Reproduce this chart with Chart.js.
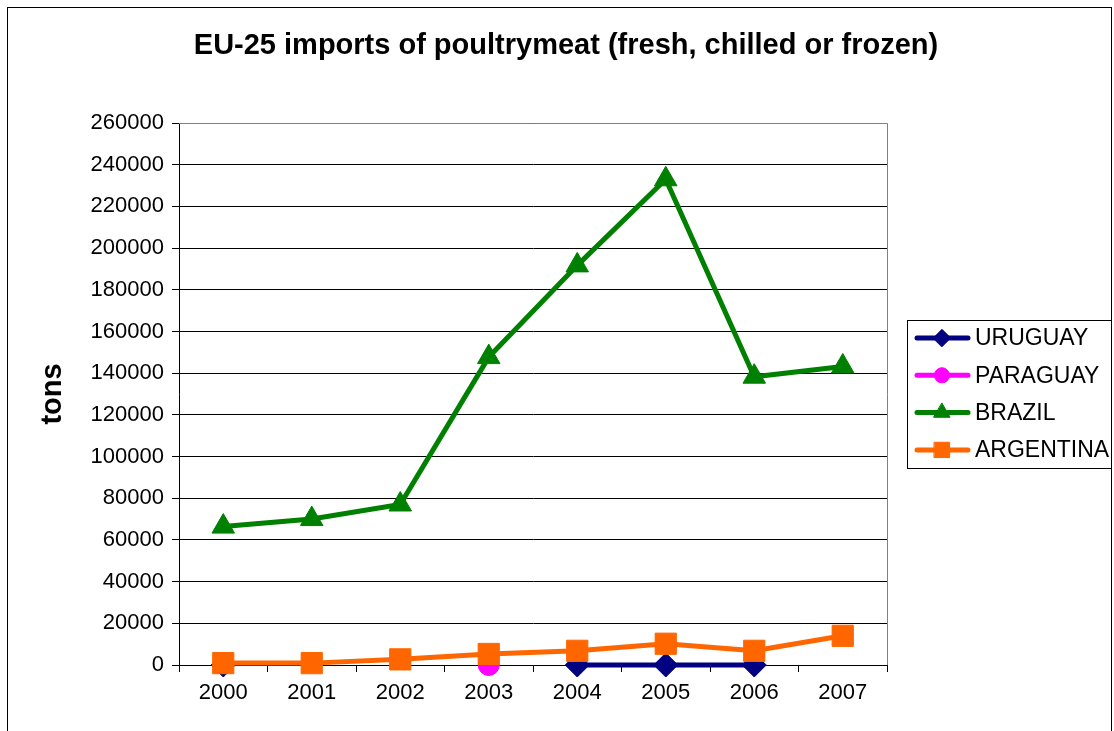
<!DOCTYPE html>
<html>
<head>
<meta charset="utf-8">
<script src="https://cdn.jsdelivr.net/npm/chart.js@4/dist/chart.umd.min.js"></script>
<style>
  html, body { margin: 0; padding: 0; background: #fff; }
  #wrap { position: relative; width: 1114px; height: 731px; }
</style>
</head>
<body>
<div id="wrap"><canvas id="chart" width="1114" height="731"></canvas></div>
<script>
// Data
const years = ['2000', '2001', '2002', '2003', '2004', '2005', '2006', '2007'];
const uruguay = [0, null, null, null, 0, 0, 0, null];
const paraguay = [null, null, null, 0, null, null, null, null];
const brazil = [66400, 70000, 77000, 147700, 191700, 233000, 138300, 143200];
const argentina = [900, 900, 2700, 5300, 6800, 10200, 6800, 14000];
const yTicks = [0, 20000, 40000, 60000, 80000, 100000, 120000, 140000, 160000, 180000, 200000, 220000, 240000, 260000];
const titleText = 'EU-25 imports of poultrymeat (fresh, chilled or frozen)';

const FONT = 'Arial, "Liberation Sans", sans-serif';

function series(label, data, color, pointStyle, radius, order) {
  return {
    label, data, order,
    borderColor: color,
    backgroundColor: color,
    pointBackgroundColor: color,
    pointBorderColor: color,
    borderWidth: 5,
    pointStyle,
    pointRadius: radius,
    pointBorderWidth: 1,
    spanGaps: false,
    clip: false,
    tension: 0,
  };
}

// frame around the whole chart, title, plot area border
const framePlugin = {
  id: 'frame',
  beforeDraw(chart) {
    const ctx = chart.ctx;
    ctx.save();
    ctx.fillStyle = '#fff';
    ctx.fillRect(0, 0, chart.width, chart.height);
    ctx.strokeStyle = '#000';
    ctx.lineWidth = 1;
    ctx.strokeRect(7.5, 7.5, 1104, 760);
    // title is centred on the whole frame, not the plot
    ctx.fillStyle = '#000';
    ctx.font = 'bold 29px ' + FONT;
    ctx.textAlign = 'center';
    ctx.textBaseline = 'middle';
    ctx.fillText(titleText, 566, 46);
    ctx.restore();
  },
  beforeDatasetsDraw(chart) {
    const { ctx, chartArea: a } = chart;
    ctx.save();
    ctx.strokeStyle = '#808080';
    ctx.lineWidth = 1;
    ctx.beginPath();
    ctx.moveTo(a.left, Math.round(a.top) + 0.5);
    ctx.lineTo(Math.round(a.right) + 0.5, Math.round(a.top) + 0.5);
    ctx.lineTo(Math.round(a.right) + 0.5, a.bottom);
    ctx.stroke();
    ctx.restore();
  }
};

// Excel-like legend box: line sample with marker, then label
const legendPlugin = {
  id: 'boxLegend',
  afterDraw(chart) {
    const ctx = chart.ctx;
    const box = { x: 907.5, y: 320.5, w: 204, h: 148 };
    ctx.save();
    ctx.strokeStyle = '#000';
    ctx.lineWidth = 1;
    ctx.strokeRect(box.x, box.y, box.w, box.h);
    ctx.font = '23px ' + FONT;
    ctx.textBaseline = 'middle';
    chart.data.datasets.forEach((ds, i) => {
      const y = 338 + i * 37.3;
      ctx.strokeStyle = ds.borderColor;
      ctx.lineWidth = 5;
      ctx.lineCap = 'round';
      ctx.beginPath();
      ctx.moveTo(917, y);
      ctx.lineTo(968, y);
      ctx.stroke();
      ctx.fillStyle = ds.backgroundColor;
      ctx.lineWidth = 1;
      Chart.helpers.drawPoint(ctx, { pointStyle: ds.pointStyle, radius: ds.pointRadius * 0.72, rotation: 0, borderWidth: 1 }, 942, y);
      ctx.fillStyle = '#000';
      ctx.fillText(ds.label, 975, y + 1);
    });
    ctx.restore();
  }
};

new Chart(document.getElementById('chart'), {
  type: 'line',
  data: {
    labels: years,
    datasets: [
      series('URUGUAY', uruguay, '#000080', 'rectRot', 12, 3),
      series('PARAGUAY', paraguay, '#FF00FF', 'circle', 10.5, 2),
      series('BRAZIL', brazil, '#008000', 'triangle', 13, 1),
      series('ARGENTINA', argentina, '#FF6600', 'rect', 15, 0),
    ]
  },
  options: {
    responsive: false,
    animation: false,
    layout: { padding: { left: 0, right: 227, top: 123, bottom: 0 } },
    plugins: {
      legend: { display: false },
      tooltip: { enabled: false },
      title: { display: false }
    },
    scales: {
      x: {
        type: 'category',
        offset: true,
        grid: { display: true, drawOnChartArea: false, offset: true, color: '#000', tickLength: 7, tickColor: '#000' },
        border: { color: '#000', width: 1 },
        ticks: { color: '#000', font: { family: FONT, size: 22 }, padding: 8, maxRotation: 0 },
        afterFit(scale) { scale.height = 66; }
      },
      y: {
        min: 0,
        max: 260000,
        afterBuildTicks(scale) { scale.ticks = yTicks.map(v => ({ value: v })); },
        grid: { color: '#000', lineWidth: 1, tickLength: 7, tickColor: '#000' },
        border: { color: '#000', width: 1 },
        ticks: { color: '#000', font: { family: FONT, size: 22 }, padding: 8, callback: v => String(v) },
        title: {
          display: true,
          text: 'tons',
          color: '#000',
          font: { family: FONT, size: 29, weight: 'bold' },
          padding: { top: 36, bottom: 0 }
        },
        afterFit(scale) { scale.width = 179; }
      }
    }
  },
  plugins: [framePlugin, legendPlugin]
});
</script>
</body>
</html>
